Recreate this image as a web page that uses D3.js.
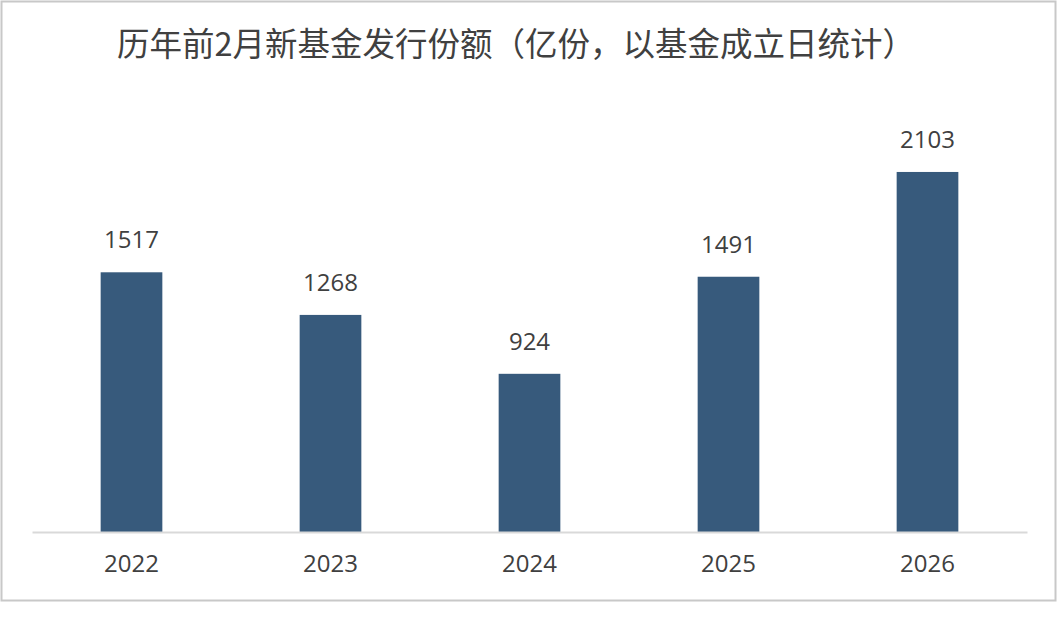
<!DOCTYPE html>
<html><head><meta charset="utf-8">
<script src="https://cdn.jsdelivr.net/npm/d3@7"></script>
<style>
html,body{margin:0;padding:0;background:#fff;}
svg{display:block;}
</style></head>
<body>
<svg id="chart" width="1059" height="620"></svg>
<script>
const categories = ["2022","2023","2024","2025","2026"];
const values = [1517,1268,924,1491,2103];
const titleText = "历年前2月新基金发行份额（亿份，以基金成立日统计）";

const svg = d3.select("#chart");
const font = "'Open Sans','Noto Sans CJK SC',sans-serif";
const textColor = "#404040";
const barColor = "#375a7c";

svg.append("rect").attr("x",1.5).attr("y",1.5).attr("width",1054).attr("height",599)
  .attr("fill","#fff").attr("stroke","#c8c8c8").attr("stroke-width",2);

const x = d3.scaleBand().domain(categories).range([32,1027]).paddingInner(0.69).paddingOuter(0.345);
const y = d3.scaleLinear().domain([0,2500]).range([532,104]);

svg.append("text").attr("x",516).attr("y",56).attr("text-anchor","middle")
  .attr("font-family","'Noto Sans CJK SC',sans-serif").attr("font-size",32.5)
  .attr("fill",textColor).text(titleText);

svg.selectAll("rect.bar").data(values).join("rect").attr("class","bar")
  .attr("x",(d,i)=>x(categories[i])).attr("width",x.bandwidth())
  .attr("y",d=>y(d)).attr("height",d=>y(0)-y(d)).attr("fill",barColor);

svg.selectAll("text.val").data(values).join("text").attr("class","val")
  .attr("x",(d,i)=>x(categories[i])+x.bandwidth()/2).attr("y",d=>y(d)-24)
  .attr("text-anchor","middle").attr("font-family",font).attr("font-size",24)
  .attr("fill",textColor).text(d=>d);

const axis = d3.axisBottom(x).tickSize(0).tickPadding(23);
const g = svg.append("g").attr("transform","translate(0,532)").call(axis);
g.select(".domain").attr("stroke","#d9d9d9").attr("stroke-width",2);
g.selectAll("text").attr("font-family",font).attr("font-size",24).attr("fill",textColor).attr("dy","0.71em");
</script>
</body></html>
